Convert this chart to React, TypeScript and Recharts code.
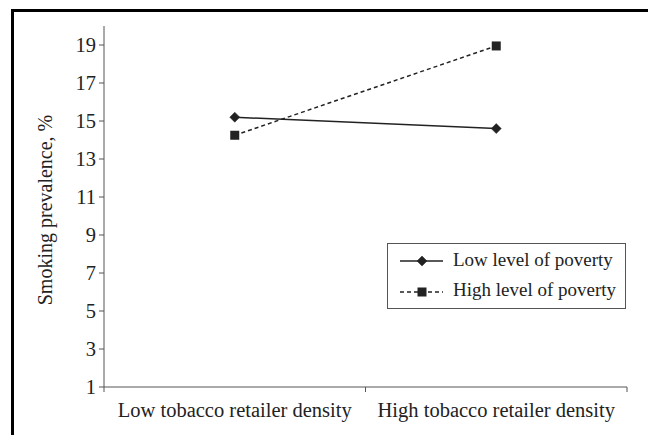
import React from 'react';
import { LineChart, Line, XAxis, YAxis, Legend } from 'recharts';

const categories = ['Low tobacco retailer density', 'High tobacco retailer density'];
const lowPoverty = [15.2, 14.6];
const highPoverty = [14.25, 18.95];
const seriesNames = ['Low level of poverty', 'High level of poverty'];
const yTicks = [1, 3, 5, 7, 9, 11, 13, 15, 17, 19];
const yDomain = [1, 20];
const xTicks = [0, 0.5, 1, 1.5, 2];

const data = categories.map((c, i) => ({
  x: i + 0.5,
  name: c,
  low: lowPoverty[i],
  high: highPoverty[i],
}));

const FONT = "'Liberation Serif', 'Times New Roman', serif";
const INK = '#222';
const AXIS = '#555';
const FS = 20.5;

const Diamond = (props: any) => {
  const { cx, cy } = props;
  if (cx == null || cy == null) return null;
  const r = 5;
  return (
    <polygon
      points={`${cx},${cy - r} ${cx + r},${cy} ${cx},${cy + r} ${cx - r},${cy}`}
      fill={INK}
      stroke={INK}
      strokeWidth={0.5}
    />
  );
};

const Square = (props: any) => {
  const { cx, cy } = props;
  if (cx == null || cy == null) return null;
  const s = 9;
  return <rect x={cx - s / 2} y={cy - s / 2} width={s} height={s} fill={INK} />;
};

const XTick = (props: any) => {
  const { x, y, payload } = props;
  const v = payload.value;
  if (Number.isInteger(v)) {
    return <line x1={x} x2={x} y1={y} y2={y + 5} stroke={AXIS} strokeWidth={1} />;
  }
  const idx = Math.floor(v);
  return (
    <text x={x} y={y + 30} textAnchor="middle" fontSize={FS} fontFamily={FONT} fill={INK}>
      {categories[idx]}
    </text>
  );
};

const YLabel = () => (
  <text
    x={45}
    y={210}
    transform="rotate(-90, 45, 210)"
    textAnchor="middle"
    dominantBaseline="central"
    fontSize={20}
    fontFamily={FONT}
    fill={INK}
  >
    Smoking prevalence, %
  </text>
);

const LegendBox = () => (
  <svg width={240} height={66} style={{ display: 'block' }}>
    <rect x={0.5} y={0.5} width={238} height={65} fill="#fff" stroke={AXIS} strokeWidth={1} />
    <line x1={13} x2={56} y1={18} y2={18} stroke={INK} strokeWidth={1.5} />
    <Diamond cx={35} cy={18} />
    <text x={66} y={23} fontSize={19} fontFamily={FONT} fill={INK}>
      {seriesNames[0]}
    </text>
    <line x1={13} x2={56} y1={49} y2={49} stroke={INK} strokeWidth={1.5} strokeDasharray="4 3" />
    <Square cx={35} cy={49} />
    <text x={66} y={53} fontSize={19} fontFamily={FONT} fill={INK}>
      {seriesNames[1]}
    </text>
  </svg>
);

export default function App() {
  return (
    <div style={{ position: 'absolute', left: 0, top: 0, width: 648, height: 435, background: '#fff' }}>
      <div
        style={{
          position: 'absolute',
          left: 11,
          top: 9,
          width: 660,
          height: 440,
          borderTop: '3px solid #000',
          borderLeft: '3px solid #000',
          boxSizing: 'border-box',
        }}
      />
      <div style={{ position: 'absolute', left: 0, top: 0 }}>
        <LineChart width={648} height={435} data={data} margin={{ top: 26, right: 21, left: 44, bottom: 18 }}>
          <XAxis
            dataKey="x"
            type="number"
            domain={[0, 2]}
            ticks={xTicks}
            interval={0}
            tickSize={0}
            tickMargin={0}
            tickLine={false}
            tick={<XTick />}
            height={30}
            axisLine={{ stroke: AXIS, strokeWidth: 1 }}
          />
          <YAxis
            type="number"
            domain={yDomain}
            ticks={yTicks}
            interval={0}
            width={60}
            tickSize={5}
            tickMargin={3}
            tick={{ fontSize: FS, fontFamily: FONT, fill: INK }}
            tickLine={{ stroke: AXIS }}
            axisLine={{ stroke: AXIS, strokeWidth: 1 }}
            label={<YLabel />}
          />
          <Line
            dataKey="low"
            name={seriesNames[0]}
            stroke={INK}
            strokeWidth={1.5}
            dot={<Diamond />}
            activeDot={false}
            isAnimationActive={false}
          />
          <Line
            dataKey="high"
            name={seriesNames[1]}
            stroke={INK}
            strokeWidth={1.5}
            strokeDasharray="4 3"
            dot={<Square />}
            activeDot={false}
            isAnimationActive={false}
          />
          <Legend
            layout="vertical"
            align="center"
            verticalAlign="middle"
            content={() => <LegendBox />}
            wrapperStyle={{ position: 'absolute', left: 387, top: 243, width: 240, height: 66 }}
          />
        </LineChart>
      </div>
    </div>
  );
}
